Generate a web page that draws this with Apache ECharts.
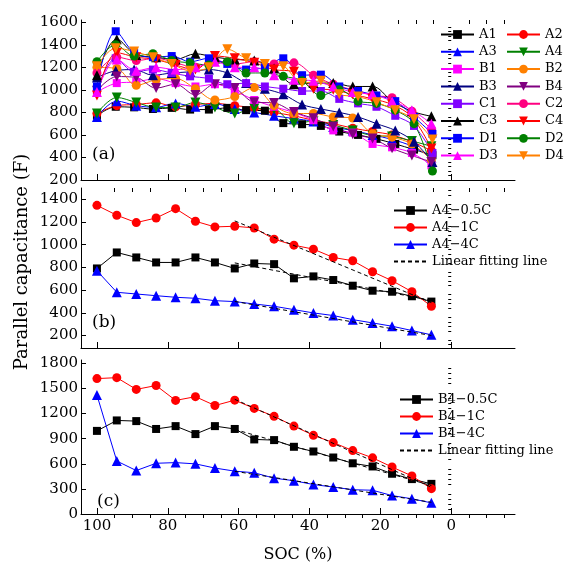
<!DOCTYPE html>
<html>
<head>
<meta charset="utf-8">
<script src="https://cdn.jsdelivr.net/npm/echarts@6/dist/echarts.min.js"></script>
<style>
    html, body { margin: 0; padding: 0; background: #fff; }
    #chart { width: 571px; height: 564px; }
</style>
</head>
<body>
<div id="chart"></div>
<script>
    // SOC grids used by the measurements
    const soc18 = [100, 94.4, 88.9, 83.3, 77.8, 72.2, 66.7, 61.1, 55.6, 50, 44.4, 38.9, 33.3, 27.8, 22.2, 16.7, 11.1, 5.6];
    const soc19 = [100, 94.7, 89.5, 84.2, 78.9, 73.7, 68.4, 63.2, 57.9, 52.6, 47.4, 42.1, 36.8, 31.6, 26.3, 21.1, 15.8, 10.5, 5.3];

    // panel (a)
    const A1 = [770, 850, 845, 830, 840, 825, 825, 840, 820, 815, 705, 695, 680, 630, 600, 565, 520, 470, 420];
    const A2 = [790, 860, 870, 885, 850, 870, 880, 860, 840, 800, 770, 730, 700, 660, 630, 600, 540, 460];
    const A3 = [760, 900, 860, 845, 880, 850, 875, 830, 800, 770, 745, 720, 670, 640, 600, 560, 500, 400];
    const B1 = [980, 1060, 1070, 1100, 1060, 1030, 1050, 990, 910, 850, 800, 730, 640, 620, 520, 490, 440, 330];
    const B2 = [1200, 1190, 1040, 1090, 1100, 1010, 910, 940, 1020, 860, 790, 790, 760, 750, 610, 580, 520, 380];
    const B3 = [1110, 1170, 1180, 1130, 1150, 1160, 1180, 1150, 1060, 1010, 960, 870, 830, 800, 760, 700, 640, 540, 360];
    const C1 = [1000, 1280, 1160, 1180, 1150, 1120, 1100, 1050, 1060, 1030, 1010, 990, 990, 920, 880, 850, 770, 680, 440];
    const C2 = [1150, 1290, 1260, 1280, 1240, 1200, 1260, 1230, 1250, 1230, 1240, 1130, 1050, 1000, 950, 930, 810, 650];
    const C3 = [1130, 1450, 1310, 1290, 1270, 1320, 1290, 1270, 1260, 1190, 1050, 1060, 1060, 1030, 1030, 900, 810, 765];
    const C4 = [950, 1330, 1290, 1270, 1220, 1180, 1300, 1280, 1240, 1180, 1160, 1010, 1000, 960, 920, 870, 760, 480];
    const D1 = [1030, 1520, 1330, 1290, 1300, 1250, 1280, 1230, 1180, 1200, 1280, 1130, 1135, 1030, 990, 950, 900, 760, 610];
    const D2 = [1250, 1400, 1300, 1320, 1260, 1240, 1220, 1250, 1150, 1150, 1120, 1080, 950, 1000, 900, 880, 820, 700, 280];
    const D3 = [980, 1270, 1170, 1200, 1180, 1200, 1250, 1200, 1200, 1130, 1090, 1080, 1030, 980, 960, 900, 820, 700];
    const D4 = [1210, 1370, 1340, 1290, 1230, 1170, 1200, 1360, 1280, 1230, 1210, 1060, 1080, 960, 940, 890, 820, 740, 560];

    // panel (b)
    const A4_05C = [791, 932, 888, 844, 844, 888, 844, 791, 835, 829, 704, 721, 689, 639, 595, 586, 546, 499];
    const A4_1C = [1347, 1260, 1195, 1236, 1318, 1207, 1157, 1163, 1148, 1049, 996, 961, 888, 859, 762, 683, 586, 458];
    const A4_4C = [771, 581, 566, 551, 537, 528, 507, 499, 478, 458, 428, 399, 376, 340, 311, 282, 244, 206];
    const fitB_x = [61.1, 5.6];
    const fitB_05C = [840, 510];
    const fitB_1C = [1210, 490];
    const fitB_4C = [500, 200];

    // panel (c)
    const B4_05C = [993, 1118, 1110, 1016, 1050, 955, 1050, 1016, 891, 883, 803, 747, 675, 606, 568, 481, 417, 360];
    const B4_1C = [1618, 1629, 1489, 1535, 1357, 1402, 1296, 1360, 1262, 1167, 1050, 940, 853, 758, 671, 561, 455, 303];
    const B4_4C = [1421, 633, 519, 606, 614, 599, 549, 512, 493, 428, 398, 352, 322, 290, 284, 220, 182, 133];
    const fitC_x = [61.1, 5.6];
    const fitC_05C = [1010, 340];
    const fitC_1C = [1370, 320];
    const fitC_4C = [510, 140];

    // tick labels
    const xLabels = [0, 20, 40, 60, 80, 100];
    const yLabelsA = [200, 400, 600, 800, 1000, 1200, 1400, 1600];
    const yLabelsB = [200, 400, 600, 800, 1000, 1200, 1400];
    const yLabelsC = [0, 300, 600, 900, 1200, 1500, 1800];

    const FONT = 'DejaVu Serif';
    const X_MIN = -18, X_MAX = 104.5;
    const grids = [
        {left: 81, width: 434, top: 20, height: 160},
        {left: 81, width: 434, top: 188, height: 160},
        {left: 81, width: 434, top: 360, height: 162}
    ];
    const yRanges = [[200, 1620, 40], [90, 1500, 40], [0, 1840, 60]];
    const yLabelSets = [yLabelsA, yLabelsB, yLabelsC];

    function pairs(xs, ys) {
        return ys.map(function (y, i) { return [xs[i], y]; });
    }

    function minorValues(min, max, step, skip) {
        let out = [];
        for (let v = Math.ceil(min / step) * step; v <= max; v += step) {
            if (skip.indexOf(v) < 0) out.push(v);
        }
        return out;
    }

    function plain(v) {
        return String(v);
    }

    let xAxes = [], yAxes = [];
    for (let g = 0; g < 3; g++) {
        xAxes.push({
            type: 'value', gridIndex: g, inverse: true, min: X_MIN, max: X_MAX,
            axisLine: {show: true, onZero: false, lineStyle: {color: '#000', width: 1}},
            axisTick: {show: true, inside: true, length: 6, lineStyle: {color: '#000'}, customValues: xLabels},
            axisLabel: {show: g === 2, customValues: xLabels, formatter: plain, color: '#000', fontFamily: FONT, fontSize: 15, margin: 5},
            splitLine: {show: false},
            name: g === 2 ? 'SOC (%)' : '', nameLocation: 'middle', nameGap: 33,
            nameTextStyle: {color: '#000', fontFamily: FONT, fontSize: 16}
        });
        xAxes.push({
            type: 'value', gridIndex: g, inverse: true, min: X_MIN, max: X_MAX,
            axisLine: {show: false},
            axisTick: {show: true, inside: true, length: 4, lineStyle: {color: '#000'},
                customValues: minorValues(X_MIN, X_MAX, 5, xLabels)},
            axisLabel: {show: false}, splitLine: {show: false}
        });
        let r = yRanges[g];
        yAxes.push({
            type: 'value', gridIndex: g, min: r[0], max: r[1],
            axisLine: {show: true, onZero: false, lineStyle: {color: '#000', width: 1}},
            axisTick: {show: true, inside: true, length: 5, lineStyle: {color: '#000'}, customValues: yLabelSets[g]},
            axisLabel: {customValues: yLabelSets[g], formatter: plain, color: '#000', fontFamily: FONT, fontSize: 15, margin: 3},
            splitLine: {show: false}
        });
        yAxes.push({
            type: 'value', gridIndex: g, min: r[0], max: r[1],
            axisLine: {show: false},
            axisTick: {show: true, inside: true, length: 3, lineStyle: {color: '#000'},
                customValues: minorValues(r[0], r[1], r[2], yLabelSets[g])},
            axisLabel: {show: false}, splitLine: {show: false}
        });
    }

    const SYM = {
        sq: {symbol: 'rect', size: 8, rot: 0},
        ci: {symbol: 'circle', size: 9, rot: 0},
        up: {symbol: 'triangle', size: 10, rot: 0},
        dn: {symbol: 'triangle', size: 10, rot: 180}
    };

    function line(name, data, color, sym, g, smooth) {
        let s = SYM[sym];
        return {
            name: name, type: 'line', xAxisIndex: g * 2, yAxisIndex: g * 2,
            data: data, smooth: smooth ? 0.35 : false,
            symbol: s.symbol, symbolSize: s.size, symbolRotate: s.rot, showAllSymbol: true,
            lineStyle: {color: color, width: 1},
            itemStyle: {color: color, borderWidth: 0},
            emphasis: {disabled: true}, animation: false
        };
    }

    function fit(xs, ys, g) {
        return {
            name: 'Linear fitting line', type: 'line', xAxisIndex: g * 2, yAxisIndex: g * 2,
            data: pairs(xs, ys), symbol: 'none', z: 5,
            lineStyle: {color: '#000', width: 1, type: [4, 3]},
            itemStyle: {color: '#000'},
            emphasis: {disabled: true}, animation: false
        };
    }

    let series = [
        line('A1', pairs(soc19, A1), '#000000', 'sq', 0, true),
        line('A2', pairs(soc18, A2), '#ff0000', 'ci', 0, true),
        line('A3', pairs(soc18, A3), '#0000ff', 'up', 0, true),
        line('A4', pairs(soc18, A4_05C), '#008000', 'dn', 0, true),
        line('B1', pairs(soc18, B1), '#ff00ff', 'sq', 0, true),
        line('B2', pairs(soc18, B2), '#ff8000', 'ci', 0, true),
        line('B3', pairs(soc19, B3), '#000080', 'up', 0, true),
        line('B4', pairs(soc18, B4_05C), '#800080', 'dn', 0, true),
        line('C1', pairs(soc19, C1), '#8000ff', 'sq', 0, true),
        line('C2', pairs(soc18, C2), '#ff0080', 'ci', 0, true),
        line('C3', pairs(soc18, C3), '#000000', 'up', 0, true),
        line('C4', pairs(soc18, C4), '#ff0000', 'dn', 0, true),
        line('D1', pairs(soc19, D1), '#0000ff', 'sq', 0, true),
        line('D2', pairs(soc19, D2), '#008000', 'ci', 0, true),
        line('D3', pairs(soc18, D3), '#ff00ff', 'up', 0, true),
        line('D4', pairs(soc19, D4), '#ff8000', 'dn', 0, true),

        line('A4\u22120.5C', pairs(soc18, A4_05C), '#000000', 'sq', 1, false),
        line('A4\u22121C', pairs(soc18, A4_1C), '#ff0000', 'ci', 1, false),
        line('A4\u22124C', pairs(soc18, A4_4C), '#0000ff', 'up', 1, false),
        fit(fitB_x, fitB_05C, 1),
        fit(fitB_x, fitB_1C, 1),
        fit(fitB_x, fitB_4C, 1),

        line('B4\u22120.5C', pairs(soc18, B4_05C), '#000000', 'sq', 2, false),
        line('B4\u22121C', pairs(soc18, B4_1C), '#ff0000', 'ci', 2, false),
        line('B4\u22124C', pairs(soc18, B4_4C), '#0000ff', 'up', 2, false),
        fit(fitC_x, fitC_05C, 2),
        fit(fitC_x, fitC_1C, 2),
        fit(fitC_x, fitC_4C, 2)
    ];

    // the fitting-line entry shows only its dashed line
    const fitEntry = {name: 'Linear fitting line', itemStyle: {opacity: 0}};

    function legend(left, top, names, gap) {
        return {
            orient: 'vertical', left: left, top: top, data: names,
            itemWidth: 33, itemHeight: 11, itemGap: gap, padding: 0,
            selectedMode: false,
            textStyle: {color: '#000', fontFamily: FONT, fontSize: 13, lineHeight: 13}
        };
    }

    let option = {
        backgroundColor: '#fff',
        animation: false,
        grid: grids,
        xAxis: xAxes,
        yAxis: yAxes,
        legend: [
            legend(440, 28, ['A1', 'A3', 'B1', 'B3', 'C1', 'C3', 'D1', 'D3'], 4.3),
            legend(506, 28, ['A2', 'A4', 'B2', 'B4', 'C2', 'C4', 'D2', 'D4'], 4.3),
            legend(393, 204, ['A4\u22120.5C', 'A4\u22121C', 'A4\u22124C', fitEntry], 4),
            legend(399, 393, ['B4\u22120.5C', 'B4\u22121C', 'B4\u22124C', fitEntry], 4)
        ],
        graphic: [
            {type: 'text', x: 92, y: 155, style: {text: '(a)', font: '17px "DejaVu Serif"', fill: '#000', textVerticalAlign: 'middle', verticalAlign: 'middle'}},
            {type: 'text', x: 92, y: 323, style: {text: '(b)', font: '17px "DejaVu Serif"', fill: '#000', textVerticalAlign: 'middle', verticalAlign: 'middle'}},
            {type: 'text', x: 97, y: 502, style: {text: '(c)', font: '17px "DejaVu Serif"', fill: '#000', textVerticalAlign: 'middle', verticalAlign: 'middle'}},
            {type: 'text', x: 22, y: 262, rotation: Math.PI / 2,
                style: {text: 'Parallel capacitance (F)', font: '18px "DejaVu Serif"', fill: '#000',
                    textAlign: 'center', align: 'center', textVerticalAlign: 'middle', verticalAlign: 'middle'}}
        ],
        series: series
    };

    let myChart = echarts.init(document.getElementById('chart'), null, {renderer: 'canvas'});
    myChart.setOption(option);
</script>
</body>
</html>
